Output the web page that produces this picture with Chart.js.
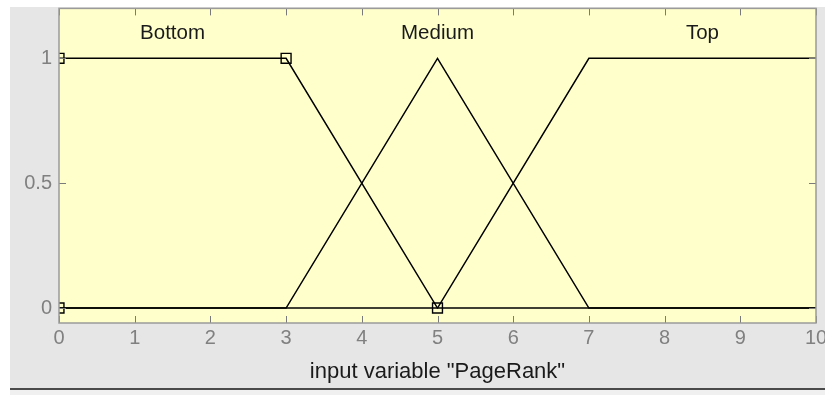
<!DOCTYPE html>
<html>
<head>
<meta charset="utf-8">
<script src="https://cdn.jsdelivr.net/npm/chart.js@4.4.1/dist/chart.umd.min.js"></script>
<style>
  html, body { margin: 0; padding: 0; background: #ffffff; }
  #wrap { position: relative; width: 825px; height: 395px; overflow: hidden; }
  #gray { position: absolute; left: 10px; top: 7px; width: 815px; height: 381px; background: #e6e6e6; }
  #dark { position: absolute; left: 10px; top: 388px; width: 815px; height: 2px; background: #4a4a4a; }
  #under { position: absolute; left: 10px; top: 390px; width: 815px; height: 5px; background: #f0f0f0; }
  canvas { position: absolute; left: 0; top: 0; }
</style>
</head>
<body>
<div id="wrap">
  <div id="gray"></div>
  <div id="dark"></div>
  <div id="under"></div>
  <canvas id="c" width="825" height="395"></canvas>
</div>
<script>
// ---- data ----
const xTicks = [0, 1, 2, 3, 4, 5, 6, 7, 8, 9, 10];
const yTicks = [0, 0.5, 1];
const mfNames = ["Bottom", "Medium", "Top"];
const mfLabelX = [1.5, 5, 8.5];
const mfLabelY = 1.1;
const bottomX = [0, 3, 5, 10];
const bottomY = [1, 1, 0, 0];
const mediumX = [0, 3, 5, 7, 10];
const mediumY = [0, 0, 1, 0, 0];
const topX = [0, 5, 7, 10];
const topY = [0, 0, 1, 1];
const markerX = [0, 0, 3, 5];
const markerY = [0, 1, 1, 0];
const axisTitle = 'input variable "PageRank"';

const FONT = '"Liberation Sans", Arial, sans-serif';
const pts = (xs, ys) => xs.map((x, i) => ({ x: x, y: ys[i] }));

const decor = {
  id: 'decor',
  beforeDraw(chart) {
    const { ctx, chartArea: a } = chart;
    ctx.save();
    ctx.fillStyle = '#ffffcc';
    ctx.fillRect(a.left, a.top, a.right - a.left, a.bottom - a.top);
    ctx.restore();
  },
  afterDraw(chart) {
    const { ctx, chartArea: a, scales } = chart;
    const xs = scales.x, ys = scales.y;
    ctx.save();
    // inward ticks
    ctx.strokeStyle = '#7a7a7a';
    ctx.lineWidth = 1;
    ctx.beginPath();
    xTicks.forEach(v => {
      const px = Math.round(xs.getPixelForValue(v)) + 0.5;
      ctx.moveTo(px, a.bottom); ctx.lineTo(px, a.bottom - 7);
      ctx.moveTo(px, a.top); ctx.lineTo(px, a.top + 7);
    });
    yTicks.forEach(v => {
      const py = Math.round(ys.getPixelForValue(v)) + 0.5;
      ctx.moveTo(a.left, py); ctx.lineTo(a.left + 7, py);
      ctx.moveTo(a.right, py); ctx.lineTo(a.right - 7, py);
    });
    ctx.stroke();
    // border
    ctx.strokeStyle = '#9a9a9a';
    ctx.lineWidth = 1.5;
    ctx.strokeRect(a.left, a.top, a.right - a.left, a.bottom - a.top);
    // MF labels
    ctx.fillStyle = '#1a1a1a';
    ctx.font = '20.5px ' + FONT;
    ctx.textAlign = 'center';
    ctx.textBaseline = 'middle';
    mfNames.forEach((n, i) => {
      ctx.fillText(n, xs.getPixelForValue(mfLabelX[i]), ys.getPixelForValue(mfLabelY));
    });
    ctx.restore();
  }
};

const lineDs = (data) => ({
  data: data,
  borderColor: '#000000',
  borderWidth: 1.5,
  pointRadius: 0,
  fill: false,
  tension: 0
});

new Chart(document.getElementById('c'), {
  type: 'line',
  data: {
    datasets: [
      lineDs(pts(bottomX, bottomY)),
      lineDs(pts(mediumX, mediumY)),
      lineDs(pts(topX, topY)),
      {
        data: pts(markerX, markerY),
        showLine: false,
        pointStyle: 'rect',
        pointRadius: 7,
        pointBorderColor: '#000000',
        pointBackgroundColor: 'rgba(0,0,0,0)',
        pointBorderWidth: 1.4
      }
    ]
  },
  options: {
    responsive: false,
    animation: false,
    events: [],
    layout: { padding: { top: 8, right: 9, left: 0, bottom: 0 } },
    plugins: { legend: { display: false }, tooltip: { enabled: false } },
    scales: {
      x: {
        type: 'linear',
        min: 0, max: 10,
        grid: { display: false, drawTicks: false },
        border: { display: false },
        afterBuildTicks: s => { s.ticks = xTicks.map(v => ({ value: v })); },
        afterFit: s => { s.height = 72; s.paddingLeft = 0; s.paddingRight = 0; },
        ticks: {
          color: '#808080',
          padding: 3,
          maxRotation: 0,
          autoSkip: false,
          font: { size: 20, family: FONT }
        },
        title: {
          display: true,
          text: axisTitle,
          color: '#1a1a1a',
          padding: { top: 0, bottom: 9.8 },
          font: { size: 22, family: FONT }
        }
      },
      y: {
        type: 'linear',
        min: -0.06, max: 1.2,
        grid: { display: false, drawTicks: false },
        border: { display: false },
        afterBuildTicks: s => { s.ticks = yTicks.map(v => ({ value: v })); },
        afterFit: s => { s.width = 59; s.paddingTop = 0; s.paddingBottom = 0; },
        ticks: {
          color: '#808080',
          padding: 7,
          autoSkip: false,
          callback: v => String(v),
          font: { size: 20, family: FONT }
        }
      }
    }
  },
  plugins: [decor]
});
</script>
</body>
</html>
